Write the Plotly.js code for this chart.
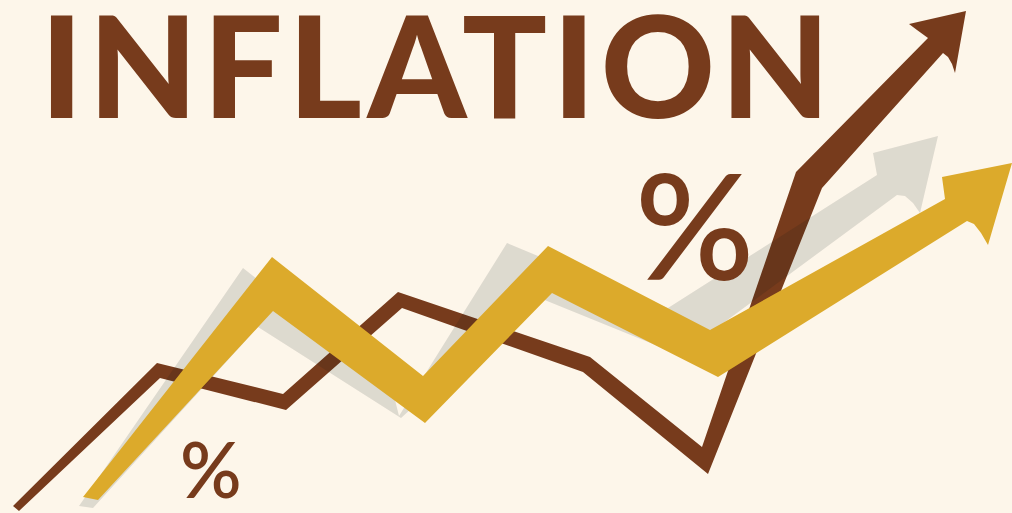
<!DOCTYPE html>
<html>
<head>
<meta charset="utf-8">
<script src="https://cdn.plot.ly/plotly-3.0.1.min.js"></script>
<style>
  html, body { margin: 0; padding: 0; background: #fdf6ea; }
  #chart { width: 1012px; height: 513px; }
  .annotation[data-index="0"] .annotation-text { letter-spacing: 5.5px; }
</style>
</head>
<body>
<div id="chart"></div>
<script>
// Title and labels
const titleText = 'INFLATION';
const pctLabels = ['%', '%'];
const pctX = [694, 211];
const pctY = [223, 468];
const pctSizes = [147, 76];

// Brown series (outline of the thin rising line with its arrow)
const brownX = [13, 157, 283, 398, 590, 702, 796, 928, 917, 909, 966, 955, 952, 948, 943, 822, 708, 583, 402, 286, 160, 19];
const brownY = [506, 363, 394, 292, 357, 447, 172, 38, 30, 24, 11, 73, 64, 57, 53, 188, 474, 372, 308, 410, 378, 511];

// Gray shadow series
const grayX = [79, 243, 262, 390, 399, 507, 538, 668, 877, 873, 938, 920, 913, 905, 897, 680, 520, 412, 401, 258, 93];
const grayY = [506, 268, 283, 380, 416, 243, 256, 308, 175, 153, 136, 213, 203, 196, 195, 355, 290, 408, 418, 327, 508];

// Gold series
const goldX = [83, 272, 423, 548, 710, 945, 942, 1012, 988, 981, 974, 967, 718, 552, 425, 273, 98];
const goldY = [497, 257, 376, 246, 330, 199, 177, 163, 245, 233, 224, 221, 377, 293, 423, 311, 500];

const BG = '#fdf6ea';
const BROWN = '#773b1c';
const GOLD = '#dcaa2b';
const GRAY = 'rgba(0,20,25,0.125)';

function band(x, y, color) {
  return {
    type: 'scatter', mode: 'lines', x: x, y: y,
    fill: 'toself', fillcolor: color,
    line: { width: 0, color: color },
    hoverinfo: 'skip', showlegend: false
  };
}

const traces = [
  band(brownX, brownY, BROWN),
  band(grayX, grayY, GRAY),
  band(goldX, goldY, GOLD)
];

const annotations = [
  {
    text: titleText, x: 437, y: 63, xref: 'x', yref: 'y',
    xanchor: 'center', yanchor: 'middle', showarrow: false,
    font: { family: 'Lato, Open Sans, sans-serif', size: 141, weight: 900, color: BROWN }
  }
];
pctLabels.forEach((t, i) => annotations.push({
  text: t, x: pctX[i], y: pctY[i], xref: 'x', yref: 'y',
  xanchor: 'center', yanchor: 'middle', showarrow: false,
  font: { family: 'Lato, Open Sans, sans-serif', size: pctSizes[i], weight: 600, color: BROWN }
}));

const layout = {
  width: 1012, height: 513,
  margin: { l: 0, r: 0, t: 0, b: 0, pad: 0 },
  paper_bgcolor: BG, plot_bgcolor: BG,
  xaxis: { range: [0, 1012], visible: false, fixedrange: true },
  yaxis: { range: [513, 0], visible: false, fixedrange: true },
  showlegend: false,
  annotations: annotations
};

Plotly.newPlot('chart', traces, layout, { displayModeBar: false, staticPlot: true });
</script>
</body>
</html>
